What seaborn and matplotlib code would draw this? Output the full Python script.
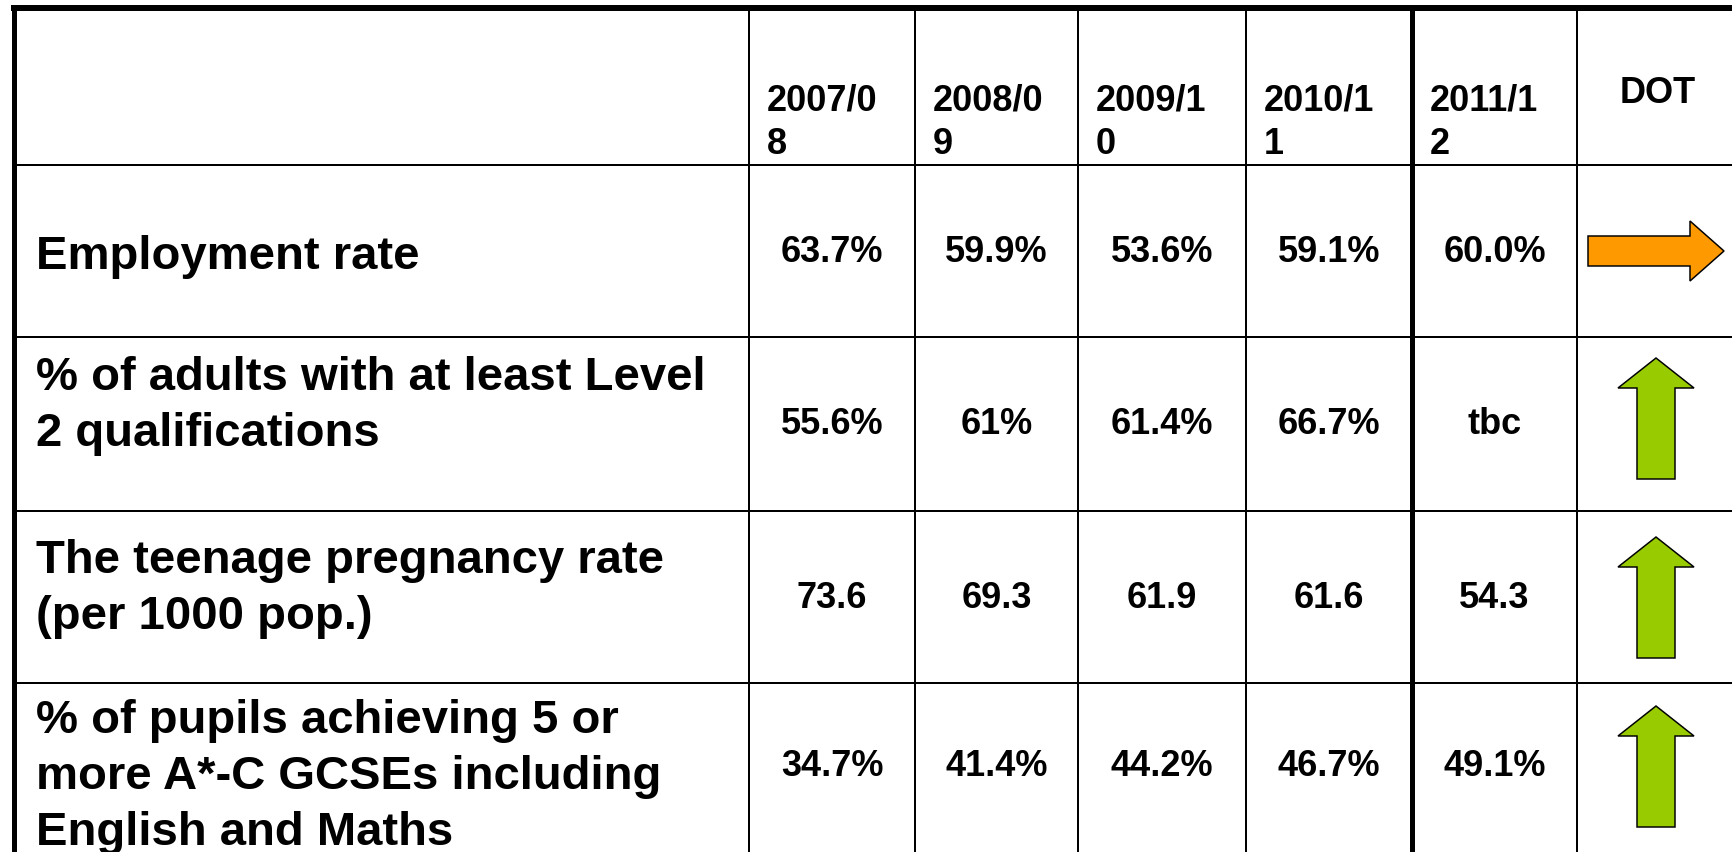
import matplotlib
matplotlib.use("Agg")
import matplotlib.pyplot as plt
from matplotlib.patches import Polygon
import seaborn as sns

# === Table data ===
header_labels = ["2007/0\n8", "2008/0\n9", "2009/1\n0", "2010/1\n1", "2011/1\n2"]
indicators = [
    "Employment rate",
    "% of adults with at least Level\n2 qualifications",
    "The teenage pregnancy rate\n(per 1000 pop.)",
    "% of pupils achieving 5 or\nmore A*-C GCSEs including\nEnglish and Maths",
]
v_2007_08 = ["63.7%", "55.6%", "73.6", "34.7%"]
v_2008_09 = ["59.9%", "61%", "69.3", "41.4%"]
v_2009_10 = ["53.6%", "61.4%", "61.9", "44.2%"]
v_2010_11 = ["59.1%", "66.7%", "61.6", "46.7%"]
v_2011_12 = ["60.0%", "tbc", "54.3", "49.1%"]
dot = ["right", "up", "up", "up"]

columns = [v_2007_08, v_2008_09, v_2009_10, v_2010_11, v_2011_12]

# === Layout (pixels) ===
col_edges = [14, 749, 915, 1078, 1246, 1412, 1577, 1745]
row_edges = [9, 166, 338, 512, 684, 850]
label_y = [257, 406, 589, 777]

sns.set_style("white")
plt.rcParams["font.family"] = ["Liberation Sans", "DejaVu Sans"]
plt.rcParams["text.color"] = "black"

fig = plt.figure(figsize=(17.33, 8.53), dpi=100)
ax = fig.add_axes([0, 0, 1, 1])
ax.set_xlim(0, 1733)
ax.set_ylim(853, 0)
ax.axis("off")

px = 72 / 100  # points per pixel

# grid lines
for y in row_edges[1:-1]:
    ax.plot([col_edges[0], col_edges[-1]], [y, y], color="black", lw=2 * px, solid_capstyle="butt")
for i, x in enumerate(col_edges[1:-1]):
    lw = 5 if i == 4 else 2
    ax.plot([x, x], [row_edges[0], 853], color="black", lw=lw * px, solid_capstyle="butt")
# outer borders
ax.plot([col_edges[0], col_edges[0]], [row_edges[0] - 3, 853], color="black", lw=5 * px, solid_capstyle="butt")
ax.plot([col_edges[0] - 2.5, 1733], [row_edges[0], row_edges[0]], color="black", lw=6 * px, solid_capstyle="butt")

# header
for j, lab in enumerate(header_labels):
    ax.text(col_edges[j + 1] + 18, 83, lab, ha="left", va="top", fontsize=26,
            fontweight="bold", linespacing=1.34, color="black")
ax.text((col_edges[6] + col_edges[7]) / 2 - 3, 76, "DOT", ha="center", va="top",
        fontsize=26, fontweight="bold", color="black")

# rows
for i, name in enumerate(indicators):
    ax.text(36, label_y[i], name, ha="left", va="center", fontsize=34,
            fontweight="bold", linespacing=1.36, color="black")
    yc = (row_edges[i + 1] + row_edges[i + 2]) / 2
    for j, col in enumerate(columns):
        xc = (col_edges[j + 1] + col_edges[j + 2]) / 2
        ax.text(xc, yc, col[i], ha="center", va="center", fontsize=26,
                fontweight="bold", color="black")

# direction-of-travel arrows
for i, d in enumerate(dot):
    yc = (row_edges[i + 1] + row_edges[i + 2]) / 2
    if d == "right":
        x0, x1, xh = 1588, 1724, 1690
        pts = [(x0, yc - 15), (xh, yc - 15), (xh, yc - 30), (x1, yc),
               (xh, yc + 30), (xh, yc + 15), (x0, yc + 15)]
        color = "#FF9900"
    else:
        xc = 1656
        yc = yc - 6 if i == 1 else yc
        top, bot = yc - 60, yc + 61
        hb = top + 30
        pts = [(xc, top), (xc + 38, hb), (xc + 19, hb), (xc + 19, bot),
               (xc - 19, bot), (xc - 19, hb), (xc - 38, hb)]
        color = "#99CC00"
    ax.add_patch(Polygon(pts, closed=True, facecolor=color, edgecolor="black", lw=1.5 * px))

plt.savefig("out.png", dpi=100)
